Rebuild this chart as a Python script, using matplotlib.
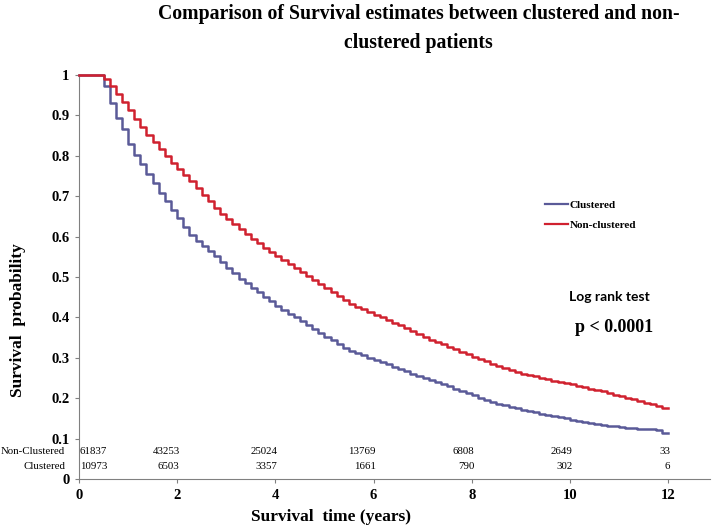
import numpy as np
import matplotlib
matplotlib.use("Agg")
import matplotlib.pyplot as plt
from matplotlib.lines import Line2D

# ---------- data ----------
step_start = 0.5      # years, first drop
step_width = 0.125    # years between steps
t_end = 12.0

non_clustered = [
    0.990, 0.972, 0.952, 0.932, 0.913, 0.892, 0.871, 0.852, 0.833, 0.816,
    0.799, 0.783, 0.767, 0.752, 0.737, 0.720, 0.703, 0.687, 0.671, 0.657,
    0.643, 0.630, 0.618, 0.606, 0.594, 0.583, 0.572, 0.562, 0.552, 0.542,
    0.532, 0.522, 0.512, 0.502, 0.492, 0.482, 0.472, 0.462, 0.452, 0.443,
    0.434, 0.427, 0.421, 0.414, 0.407, 0.400, 0.394, 0.387, 0.380, 0.373,
    0.366, 0.359, 0.352, 0.345, 0.339, 0.333, 0.327, 0.321, 0.315, 0.309,
    0.303, 0.297, 0.291, 0.285, 0.279, 0.274, 0.269, 0.265, 0.261, 0.257,
    0.254, 0.250, 0.247, 0.243, 0.240, 0.237, 0.234, 0.231, 0.228, 0.224,
    0.221, 0.217, 0.213, 0.209, 0.205, 0.201, 0.198, 0.193, 0.189, 0.185,
    0.181, 0.175,
]
clustered = [
    0.972, 0.930, 0.893, 0.866, 0.830, 0.803, 0.779, 0.754, 0.733, 0.709,
    0.687, 0.667, 0.646, 0.625, 0.604, 0.590, 0.577, 0.564, 0.551, 0.537,
    0.523, 0.509, 0.496, 0.485, 0.474, 0.462, 0.451, 0.440, 0.429, 0.419,
    0.409, 0.400, 0.390, 0.381, 0.371, 0.362, 0.352, 0.343, 0.333, 0.325,
    0.318, 0.312, 0.306, 0.300, 0.295, 0.289, 0.284, 0.278, 0.272, 0.267,
    0.261, 0.256, 0.250, 0.245, 0.240, 0.234, 0.229, 0.224, 0.218, 0.212,
    0.207, 0.201, 0.196, 0.191, 0.186, 0.182, 0.178, 0.175, 0.171, 0.168,
    0.165, 0.162, 0.159, 0.156, 0.153, 0.150, 0.147, 0.144, 0.141, 0.138,
    0.136, 0.134, 0.132, 0.130, 0.128, 0.127, 0.126, 0.125, 0.124, 0.123,
    0.122, 0.114,
]

risk_times = [0, 2, 4, 6, 8, 10, 12]
risk_non_clustered = ["61837", "43253", "25024", "13769", "6808", "2649", "33"]
risk_clustered = ["10973", "6503", "3357", "1661", "790", "302", "6"]

# ---------- style ----------
serif = 'Liberation Serif'
c_clu = '#5a5a98'
c_non = '#d0212f'
c_axis = '#808080'

fig = plt.figure(figsize=(7.16, 5.29), dpi=100)
fig.patch.set_facecolor('white')
ax = fig.add_axes([0.1103, 0.0945, 0.881, 0.7637])


def step_xy(vals):
    t = step_start + step_width * np.arange(len(vals))
    x = np.concatenate([[0.0], t, [t_end]])
    y = np.concatenate([[1.0], vals, [vals[-1]]])
    return x, y


x_c, y_c = step_xy(clustered)
x_n, y_n = step_xy(non_clustered)
ax.step(x_c, y_c, where='post', color=c_clu, lw=1.8, clip_on=False, zorder=3)
ax.step(x_n, y_n, where='post', color=c_non, lw=1.8, clip_on=False, zorder=3)

ax.set_xlim(0, 12.85)
ax.set_ylim(0, 1)
ax.set_xticks(range(0, 13, 2))
ax.set_yticks(np.round(np.arange(0, 1.01, 0.1), 1))
ax.set_yticklabels(['0'] + [f'{v:.1f}' for v in np.arange(0.1, 0.95, 0.1)] + ['1'])

for s in ['top', 'right']:
    ax.spines[s].set_visible(False)
for s in ['left', 'bottom']:
    ax.spines[s].set_color(c_axis)
    ax.spines[s].set_linewidth(0.8)
ax.tick_params(colors=c_axis, length=3, width=0.8, pad=4)
for lab in ax.get_xticklabels() + ax.get_yticklabels():
    lab.set_fontfamily(serif)
    lab.set_fontweight('bold')
    lab.set_fontsize(10.5)
    lab.set_color('black')

ax.set_xlabel('Survival  time (years)', fontfamily=serif, fontweight='bold',
              fontsize=12.5, va='center')
ax.xaxis.set_label_coords(0.40, -0.094)
ax.set_ylabel('Survival  probability', fontfamily=serif, fontweight='bold',
              fontsize=12.5, va='center')
ax.yaxis.set_label_coords(-0.097, 0.394)

# numbers at risk
for i, (t, a, b) in enumerate(zip(risk_times, risk_non_clustered, risk_clustered)):
    ha = 'left' if i == 0 else 'right'
    xt = t + 0.02 if i == 0 else t + 0.05
    ax.text(xt, 0.067, a, ha=ha, va='center', fontfamily=serif, fontsize=7.8)
    ax.text(xt, 0.032, b, ha=ha, va='center', fontfamily=serif, fontsize=7.8)
ax.text(-0.28, 0.067, 'Non-Clustered', ha='right', va='center',
        fontfamily=serif, fontsize=7.8, clip_on=False)
ax.text(-0.28, 0.032, 'Clustered', ha='right', va='center',
        fontfamily=serif, fontsize=7.8, clip_on=False)

# legend
handles = [Line2D([0], [0], color=c_clu, lw=1.6, label='Clustered'),
           Line2D([0], [0], color=c_non, lw=1.6, label='Non-clustered')]
leg = ax.legend(handles=handles, loc='center left', bbox_to_anchor=(0.7306, 0.653),
                frameon=False, borderpad=0, handlelength=2.0, handletextpad=0.2,
                labelspacing=0.9, prop={'family': serif, 'weight': 'bold', 'size': 8})

ax.text(10.81, 0.450, 'Log rank test', ha='center', va='center',
        fontfamily='Lato', fontweight='bold', fontsize=10)
ax.text(10.90, 0.376, 'p < 0.0001', ha='center', va='center',
        fontfamily=serif, fontweight='bold', fontsize=13)

fig.text(0.585, 0.993, 'Comparison of Survival estimates between clustered and non-\nclustered patients',
         ha='center', va='top', fontfamily=serif, fontweight='bold', fontsize=14.2,
         linespacing=1.65)

fig.savefig('out.png', dpi=100, facecolor='white')
